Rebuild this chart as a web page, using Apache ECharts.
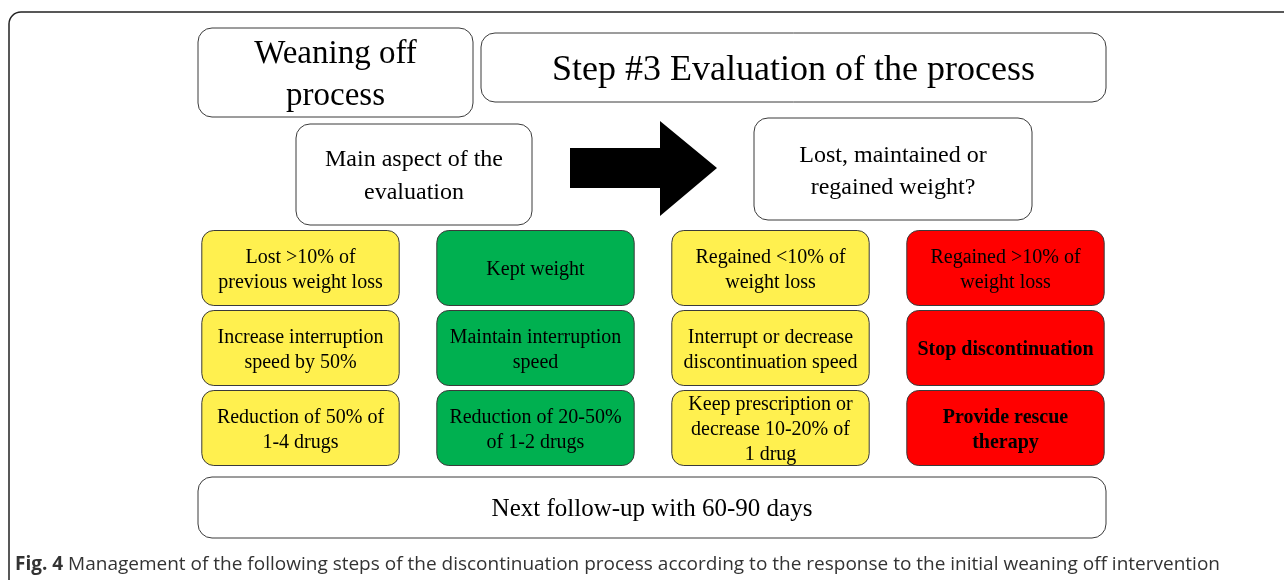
<!DOCTYPE html>
<html>
<head>
<meta charset="utf-8">
<script src="https://cdn.jsdelivr.net/npm/echarts@6/dist/echarts.min.js"></script>
<style>
  html, body { margin: 0; padding: 0; background: #fff; }
  #chart { width: 1284px; height: 580px; }
</style>
</head>
<body>
<div id="chart"></div>
<script>
// outcome columns and the three rows of each column
var outcomes = ['Lost', 'Kept', 'Regained <10%', 'Regained >10%'];
var steps = ['Result', 'Speed', 'Dose'];
var outcomeStatus = ['caution', 'ok', 'caution', 'stop'];
var cellTexts = [
    ['Lost >10% of\nprevious weight loss', 'Increase interruption\nspeed by 50%', 'Reduction of 50% of\n1-4 drugs'],
    ['Kept weight', 'Maintain interruption\nspeed', 'Reduction of 20-50%\nof 1-2 drugs'],
    ['Regained <10% of\nweight loss', 'Interrupt or decrease\ndiscontinuation speed', 'Keep prescription or\ndecrease 10-20% of\n1 drug'],
    ['Regained >10% of\nweight loss', 'Stop discontinuation', 'Provide rescue\ntherapy']
];
var cellBold = [
    [false, false, false],
    [false, false, false],
    [false, false, false],
    [false, true, true]
];
var headerTexts = ['Weaning off\nprocess', 'Step #3 Evaluation of the process', 'Main aspect of the\nevaluation', 'Lost, maintained or\nregained weight?', 'Next follow-up with 60-90 days'];
var captionLabel = 'Fig. 4';
var captionText = 'Management of the following steps of the discontinuation process according to the response to the initial weaning off intervention';

var statusColor = { caution: '#fff04f', ok: '#00b050', stop: '#ff0000' };
var serif = '"Liberation Serif", "DejaVu Serif", serif';

// header layout (pixels)
var headerLayout = [
    { x: 198, y: 28, w: 275, h: 89, size: 33, lh: 42, dy: 3 },
    { x: 481, y: 33, w: 625, h: 69, size: 36, lh: 40, dy: 3 },
    { x: 296, y: 124, w: 236, h: 101, size: 24, lh: 33, dy: 2 },
    { x: 754, y: 118, w: 278, h: 102, size: 24, lh: 32, dy: 3 },
    { x: 198, y: 477, w: 908, h: 61, size: 25, lh: 30, dy: 2 }
];

var cells = [];
for (var i = 0; i < outcomes.length; i++) {
    for (var j = 0; j < steps.length; j++) {
        cells.push([i, j, cellTexts[i][j], outcomeStatus[i], cellBold[i][j] ? 1 : 0]);
    }
}

function renderCell(params, api) {
    var c = api.coord([api.value(0), api.value(1)]);
    var band = api.size([1, 1]);
    var w = band[0] * 0.84;
    var h = band[1] - 5;
    return {
        type: 'rect',
        shape: { x: c[0] - w / 2, y: c[1] - h / 2, width: w, height: h, r: 12 },
        style: { fill: statusColor[api.value(3)], stroke: '#3a3a3a', lineWidth: 1 },
        textContent: {
            style: {
                text: cells[params.dataIndex][2],
                fontFamily: serif,
                fontSize: 20,
                fontWeight: api.value(4) ? 'bold' : 'normal',
                lineHeight: 25,
                fill: '#000',
                align: 'center'
            }
        },
        textConfig: { position: 'inside', offset: [0, 2] }
    };
}

var graphics = [{
    type: 'rect',
    shape: { x: 9, y: 12, width: 1320, height: 620, r: 12 },
    style: { fill: 'none', stroke: '#222', lineWidth: 1.5 },
    silent: true
}];
headerTexts.forEach(function (t, k) {
    var L = headerLayout[k];
    graphics.push({
        type: 'rect',
        shape: { x: L.x, y: L.y, width: L.w, height: L.h, r: 14 },
        style: { fill: '#fff', stroke: '#3a3a3a', lineWidth: 1 },
        textContent: {
            style: { text: t, fontFamily: serif, fontSize: L.size, lineHeight: L.lh, fill: '#000', align: 'center' }
        },
        textConfig: { position: 'inside', offset: [0, L.dy] }
    });
});
graphics.push({
    type: 'polygon',
    shape: { points: [[570, 148], [660, 148], [660, 121], [717, 168], [660, 216], [660, 188], [570, 188]] },
    style: { fill: '#000' }
});
graphics.push({
    type: 'text',
    x: 15,
    y: 565,
    style: {
        text: '{b|' + captionLabel + '} ' + captionText,
        fontFamily: '"Open Sans", "Noto Sans", sans-serif',
        fontSize: 19,
        fill: '#333',
        verticalAlign: 'middle',
        rich: { b: { fontWeight: 'bold', fontFamily: '"Open Sans", "Noto Sans", sans-serif', fontSize: 19, fill: '#333' } }
    }
});

var chart = echarts.init(document.getElementById('chart'));
chart.setOption({
    animation: false,
    grid: { left: 183, width: 940, top: 228, height: 240 },
    xAxis: { type: 'category', data: outcomes, show: false },
    yAxis: { type: 'category', data: steps, inverse: true, show: false },
    graphic: graphics,
    series: [{
        type: 'custom',
        renderItem: renderCell,
        data: cells,
        encode: { x: 0, y: 1 }
    }]
});
</script>
</body>
</html>
